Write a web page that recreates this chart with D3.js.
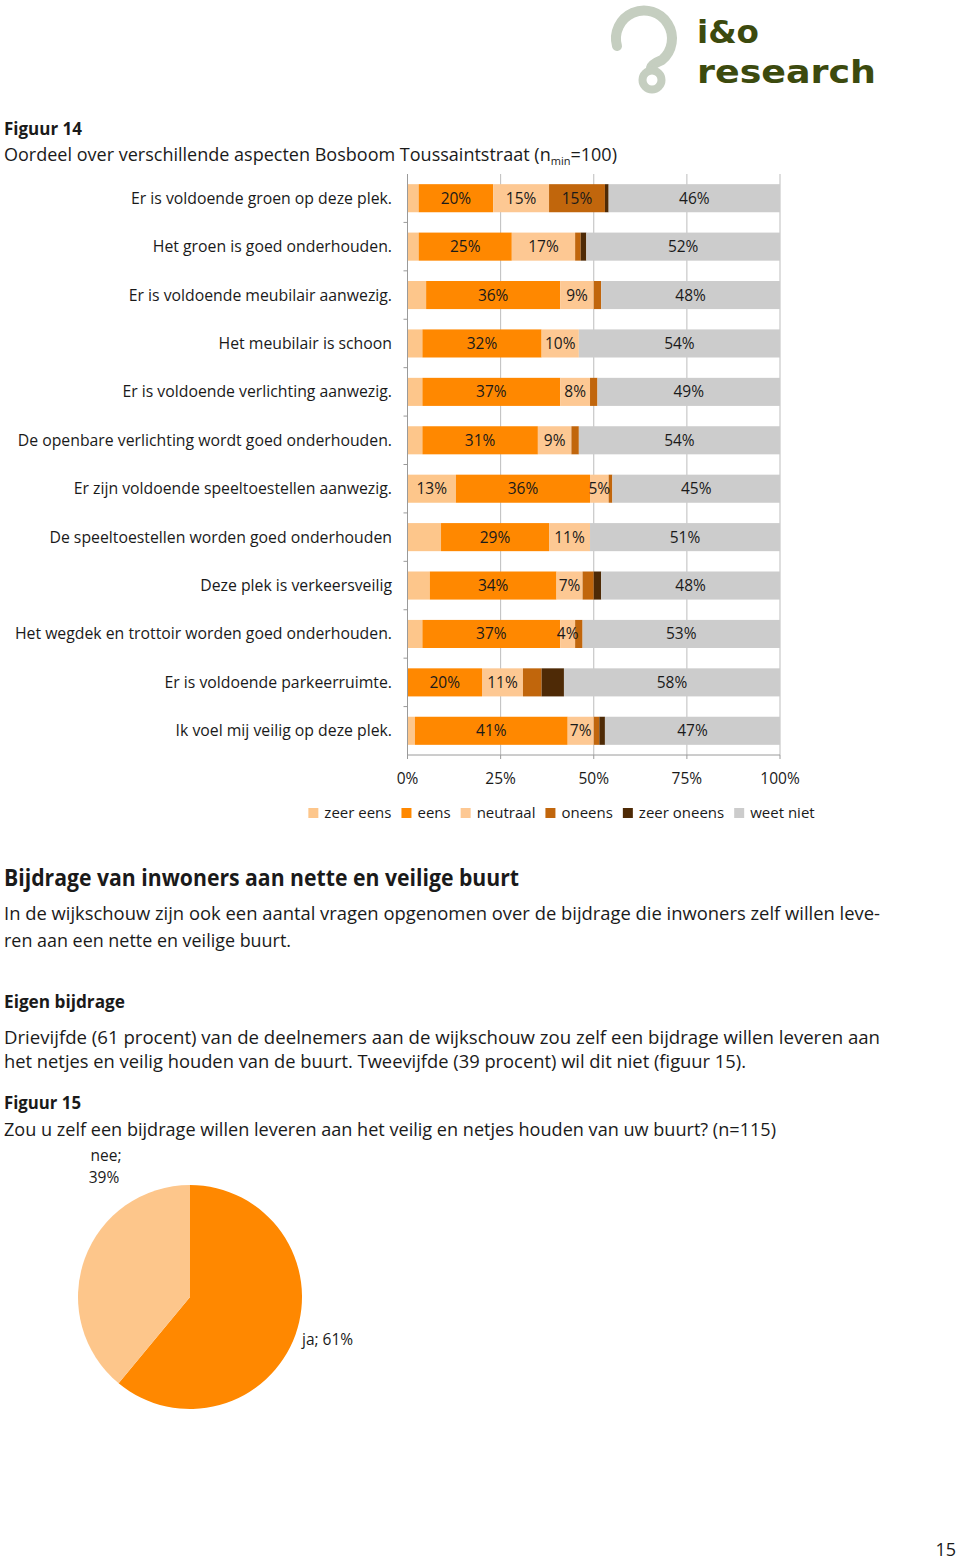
<!DOCTYPE html>
<html><head><meta charset="utf-8">
<script src="https://cdn.jsdelivr.net/npm/d3@7"></script>
<style>
body{margin:0;background:#fff;}
svg{display:block;font-family:"Open Sans",sans-serif;}
</style></head>
<body>
<svg id="page" width="960" height="1562"></svg>
<script>
// ---------- DATA ----------
const categories = [
  "Er is voldoende groen op deze plek.",
  "Het groen is goed onderhouden.",
  "Er is voldoende meubilair aanwezig.",
  "Het meubilair is schoon",
  "Er is voldoende verlichting aanwezig.",
  "De openbare verlichting wordt goed onderhouden.",
  "Er zijn voldoende speeltoestellen aanwezig.",
  "De speeltoestellen worden goed onderhouden",
  "Deze plek is verkeersveilig",
  "Het wegdek en trottoir worden goed onderhouden.",
  "Er is voldoende parkeerruimte.",
  "Ik voel mij veilig op deze plek."
];
const seriesNames = ["zeer eens","eens","neutraal","oneens","zeer oneens","weet niet"];
const zeerEens   = [3, 3, 5, 4, 4, 4, 13, 9, 6, 4, 0, 2];
const eens       = [20,25,36,32,37,31,36,29,34,37,20,41];
const neutraal   = [15,17, 9,10, 8, 9, 5,11, 7, 4,11, 7];
const oneens     = [15,1.5,2, 0, 2, 2, 1, 0, 3, 2, 5,1.5];
const zeerOneens = [1,1.5, 0, 0, 0, 0, 0, 0, 2, 0, 6,1.5];
const weetNiet   = [46,52,48,54,49,54,45,51,48,53,58,47];
const xTicks = [0,25,50,75,100];

const pieLabels = ["ja","nee"];
const pieValues = [61,39];

// ---------- STYLE ----------
const colors = ["#FDC68B","#FF8800","#FDC893","#C1660C","#4E2A06","#CCCCCC"];
const labelMin = [10,1,1,10,10,1];
const seriesValues = [zeerEens,eens,neutraal,oneens,zeerOneens,weetNiet];

const svg = d3.select("#page");

function txt(x,y,s,opt={}){
  const t = svg.append("text").attr("x",x).attr("y",y).text(s)
    .attr("font-size",opt.size||17).attr("fill",opt.fill||"#1a1a1a")
    .attr("font-weight",opt.weight||"normal");
  if(opt.anchor) t.attr("text-anchor",opt.anchor);
  if(opt.width) t.attr("textLength",opt.width).attr("lengthAdjust","spacingAndGlyphs");
  if(opt.family) t.attr("font-family",opt.family);
  return t;
}

// ---------- LOGO ----------
const logo = svg.append("g");
logo.append("path")
  .attr("d","M617,46 A28,28 0 1,1 662,60 Q652,64 651,68")
  .attr("fill","none").attr("stroke","#C5CEC0").attr("stroke-width",10).attr("stroke-linecap","round");
logo.append("circle").attr("cx",652).attr("cy",80).attr("r",9.5)
  .attr("fill","none").attr("stroke","#C5CEC0").attr("stroke-width",8);
txt(697,43,"i&o",{size:32,weight:"bold",fill:"#3C4A0E",width:62,family:"DejaVu Sans"});
txt(697,83,"research",{size:32,weight:"bold",fill:"#3C4A0E",width:179,family:"DejaVu Sans"});

// ---------- HEADINGS ----------
txt(4,135,"Figuur 14",{size:18,weight:"bold",width:78});
const sub = txt(4,161,"Oordeel over verschillende aspecten Bosboom Toussaintstraat (n",{size:18});
sub.append("tspan").attr("font-size",11).attr("dy",4).text("min");
sub.append("tspan").attr("dy",-4).text("=100)");
sub.attr("textLength",613).attr("lengthAdjust","spacingAndGlyphs");

// ---------- BAR CHART ----------
const x = d3.scaleLinear().domain([0,100]).range([407.5,780]);
const y = d3.scaleBand().domain(categories).range([174,755]).paddingInner(0.42).paddingOuter(0.21);

const chart = svg.append("g");
chart.selectAll("line.grid").data(xTicks.slice(1)).join("line")
  .attr("x1",d=>x(d)).attr("x2",d=>x(d)).attr("y1",174).attr("y2",755)
  .attr("stroke","#BDBDBD").attr("stroke-width",1);

const rows = categories.map((c,i)=>{
  let acc=0;
  return seriesValues.map((s,k)=>{const o={cat:c,k,v:s[i],x0:acc,x1:acc+s[i]};acc+=s[i];return o;});
});
const segs = rows.flat().filter(d=>d.v>0);
chart.selectAll("rect.seg").data(segs).join("rect")
  .attr("x",d=>x(d.x0)).attr("width",d=>x(d.x1)-x(d.x0))
  .attr("y",d=>y(d.cat)).attr("height",y.bandwidth())
  .attr("fill",d=>colors[d.k]);
chart.selectAll("text.lab").data(segs.filter(d=>d.v>=labelMin[d.k])).join("text")
  .attr("x",d=>(x(d.x0)+x(d.x1))/2).attr("y",d=>y(d.cat)+y.bandwidth()/2+5.5)
  .attr("text-anchor","middle").attr("font-size",15.5).attr("fill","#1a1a1a")
  .text(d=>Math.round(d.v)+"%");

const ax = chart.append("g");
ax.append("line").attr("x1",x(0)).attr("x2",x(0)).attr("y1",174).attr("y2",759).attr("stroke","#9A9A9A");
ax.append("line").attr("x1",x(0)).attr("x2",x(100)).attr("y1",755).attr("y2",755).attr("stroke","#9A9A9A");
ax.selectAll("line.yt").data(d3.range(1,categories.length)).join("line")
  .attr("x1",x(0)-4).attr("x2",x(0))
  .attr("y1",i=>y(categories[i])-y.step()*y.paddingInner()/2)
  .attr("y2",i=>y(categories[i])-y.step()*y.paddingInner()/2)
  .attr("stroke","#9A9A9A");
ax.selectAll("line.xt").data(xTicks).join("line")
  .attr("x1",d=>x(d)).attr("x2",d=>x(d)).attr("y1",755).attr("y2",759).attr("stroke","#9A9A9A");
chart.selectAll("text.cat").data(categories).join("text")
  .attr("x",392).attr("y",d=>y(d)+y.bandwidth()/2+5.5)
  .attr("text-anchor","end").attr("font-size",15.8).attr("fill","#1a1a1a")
  .text(d=>d);
chart.selectAll("text.xl").data(xTicks).join("text")
  .attr("x",d=>x(d)).attr("y",784).attr("text-anchor","middle")
  .attr("font-size",15.5).attr("fill","#1a1a1a").text(d=>d+"%");

// legend
const leg = svg.append("g");
let lx = 0;
seriesNames.forEach((n,k)=>{
  const g = leg.append("g");
  g.append("rect").attr("x",0).attr("y",-10).attr("width",10).attr("height",10).attr("fill",colors[k]);
  const t = g.append("text").attr("x",16).attr("y",0).attr("font-size",15).attr("fill","#1a1a1a").text(n);
  const w = 16 + t.node().getComputedTextLength();
  g.attr("transform",`translate(${lx},818)`);
  lx += w + 10;
});
const legW = lx - 10;
leg.attr("transform",`translate(${561.5-legW/2},0)`);

// ---------- BODY TEXT ----------
txt(4,886,"Bijdrage van inwoners aan nette en veilige buurt",{size:23,weight:"bold",width:515});
txt(4,920,"In de wijkschouw zijn ook een aantal vragen opgenomen over de bijdrage die inwoners zelf willen leve-",{size:17.5,width:876});
txt(4,947,"ren aan een nette en veilige buurt.",{size:17.5,width:287});
txt(4,1008,"Eigen bijdrage",{size:18,weight:"bold",width:121});
txt(4,1044,"Drievijfde (61 procent) van de deelnemers aan de wijkschouw zou zelf een bijdrage willen leveren aan",{size:17.5,width:876});
txt(4,1068,"het netjes en veilig houden van de buurt. Tweevijfde (39 procent) wil dit niet (figuur 15).",{size:17.5,width:742});
txt(4,1109,"Figuur 15",{size:18,weight:"bold",width:77});
txt(4,1136,"Zou u zelf een bijdrage willen leveren aan het veilig en netjes houden van uw buurt? (n=115)",{size:18,width:772});

// ---------- PIE ----------
const pie = d3.pie().sort(null).value(d=>d)(pieValues);
const arc = d3.arc().innerRadius(0).outerRadius(112);
const pg = svg.append("g").attr("transform","translate(190,1297)");
pg.selectAll("path").data(pie).join("path").attr("d",arc)
  .attr("fill",(d,i)=>i===0?"#FF8800":"#FDC68B");
txt(106,1161,pieLabels[1]+";",{size:15.5,anchor:"middle"});
txt(104,1183,pieValues[1]+"%",{size:15.5,anchor:"middle"});
txt(302,1345,pieLabels[0]+"; "+pieValues[0]+"%",{size:15.5});

// page number
txt(956,1556,"15",{size:18,anchor:"end"});
</script>
</body></html>
